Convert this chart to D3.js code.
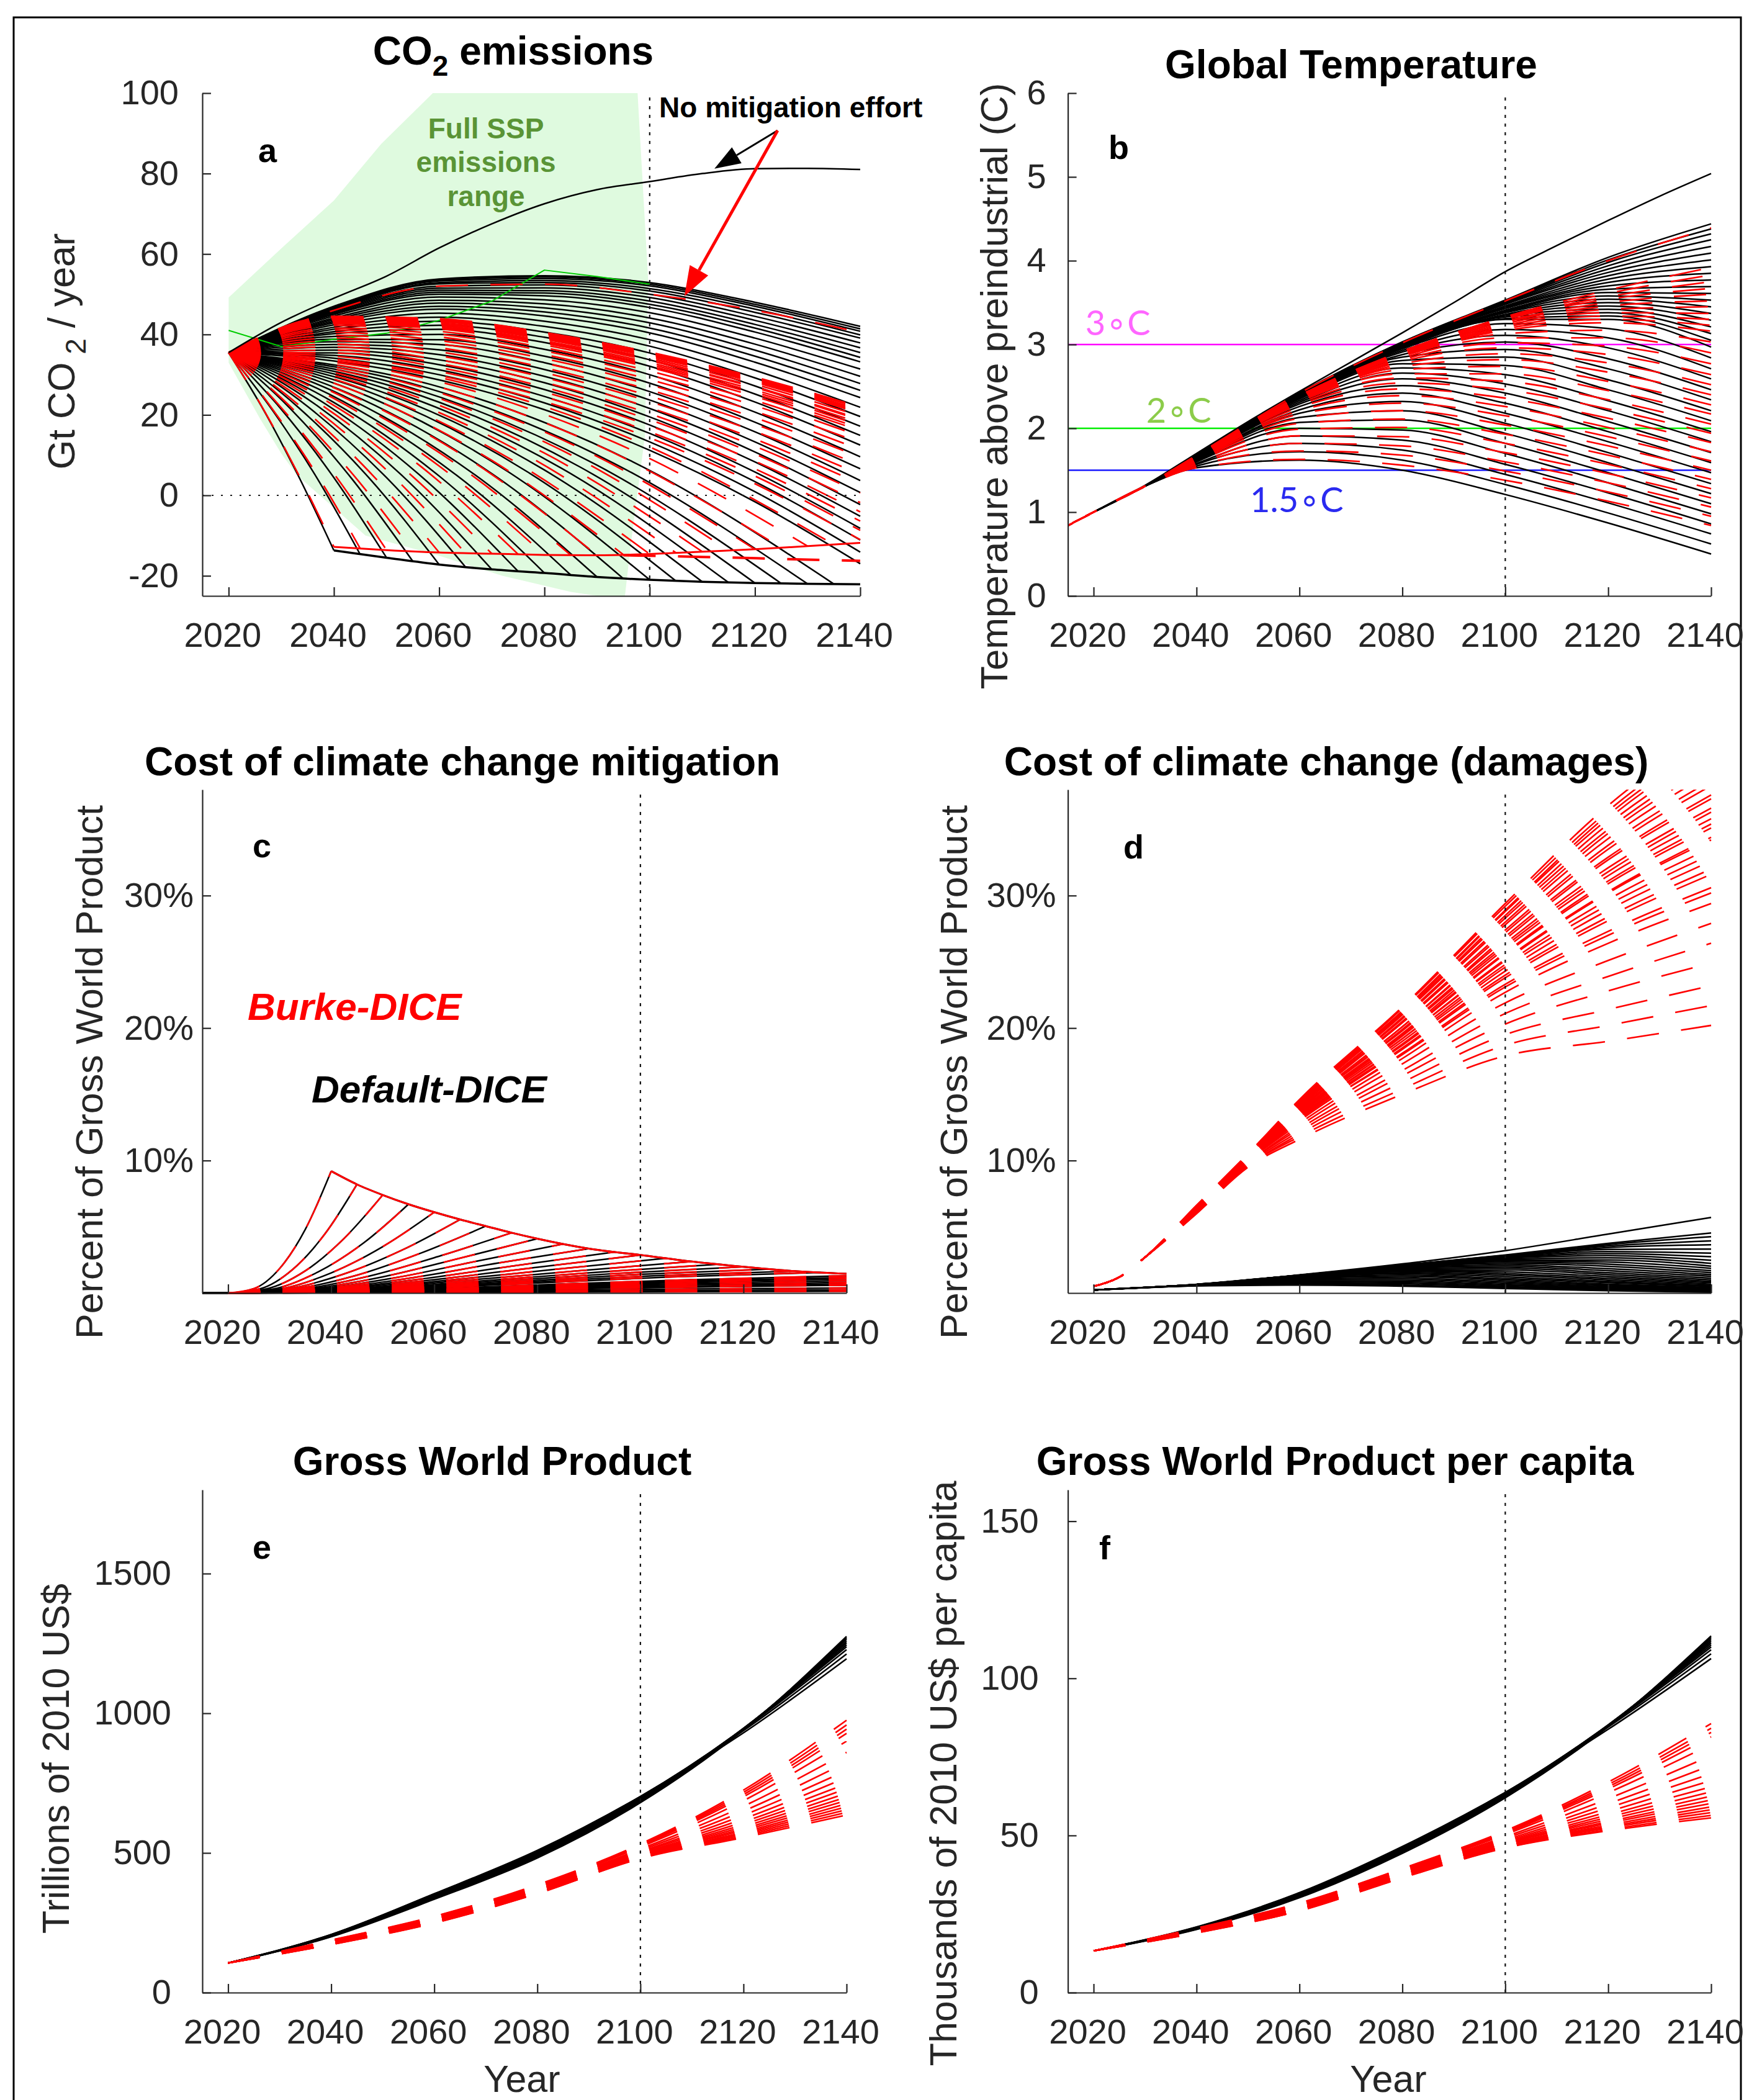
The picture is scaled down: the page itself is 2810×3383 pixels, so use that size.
<!DOCTYPE html>
<html>
<head>
<meta charset="utf-8">
<title>DICE mitigation scenarios</title>
<script src="https://d3js.org/d3.v7.min.js"></script>
<style>
  body { margin: 0; background: #fff; }
</style>
</head>
<body>
<script>
// ---------------- data ----------------
const xTickYears = [2020, 2040, 2060, 2080, 2100, 2120, 2140];
const yrs20 = [2020, 2040, 2060, 2080, 2100, 2120, 2140];
const decades = [2020, 2030, 2040, 2050, 2060, 2070, 2080, 2090, 2100, 2110, 2120, 2130, 2140];

// (a) CO2 emissions, Gt CO2 / year
const emisTicks = [-20, 0, 20, 40, 60, 80, 100];
const emisStart = 35.5;
const emisNoMitigation = [35.5, 43, 49, 54.5, 61.5, 67.5, 72.5, 76, 78, 80, 81.2, 81.3, 81];
const sspMarkerYears = [2020, 2030, 2040, 2050, 2060, 2070, 2080, 2090, 2100];
const sspMarkerEmis = [41, 37, 38.8, 40.3, 43.5, 48.3, 56, 54.4, 52.5];
const sspRange = [[2020, 49.2], [2030, 61.4], [2040, 73.3], [2049, 87.4], [2058.8, 100], [2097.7, 100],
  [2099.7, 53.8], [2099.1, 14.8], [2096.4, -12.3], [2095.3, -25], [2090, -25], [2085, -24], [2072, -20],
  [2060, -15], [2046, -10], [2033, 5], [2030, 10.4], [2026, 19], [2020, 33]];
const floorYears = [2040, 2050, 2060, 2070, 2080, 2090, 2100, 2110, 2120, 2130, 2140];
const emisFloorBlack = [-13.7, -15.5, -17.2, -18.4, -19.3, -20.3, -21, -21.5, -21.8, -22, -22.1];
const emisFloorRed = [-12.8, -13.6, -14.2, -14.5, -14.8, -14.9, -14.6, -14.0, -13.4, -12.6, -11.8];
const emisFloorRedLow = [[2095, -14.9], [2110, -15.3], [2125, -15.8], [2140, -16.3]];
// scenarios reaching the floor: [year1, value1, year2, value2, floorYear, floorValue]
const emisDropBlack = [
  [2026.7, 21.1, 2033.3, 4.7, 2040, -13.7], [2028.3, 21.2, 2036.7, 4.5, 2045, -14.7],
  [2030, 21.4, 2040, 4.4, 2050, -15.5], [2031.7, 21.6, 2043.3, 4.3, 2055, -16.4],
  [2033.3, 21.8, 2046.7, 4.3, 2060, -17.2], [2035, 22.1, 2050, 4.4, 2065, -17.8],
  [2036.7, 22.4, 2053.3, 4.5, 2070, -18.4], [2038.3, 22.8, 2056.7, 4.6, 2075, -18.9],
  [2040, 23.1, 2060, 4.8, 2080, -19.3], [2041.7, 23.4, 2063.3, 5.0, 2085, -19.8],
  [2043.3, 23.8, 2066.7, 5.2, 2090, -20.3], [2045, 24.1, 2070, 5.4, 2095, -20.7],
  [2046.7, 24.5, 2073.3, 5.7, 2100, -21], [2048.3, 24.9, 2076.7, 5.9, 2105, -21.3],
  [2050, 25.3, 2080, 6.3, 2110, -21.5], [2051.7, 25.7, 2083.3, 6.7, 2115, -21.7],
  [2053.3, 26.2, 2086.7, 7.1, 2120, -21.8], [2055, 26.6, 2090, 7.5, 2125, -21.9],
  [2056.7, 27.1, 2093.3, 7.9, 2130, -22], [2058.3, 27.6, 2096.7, 8.4, 2135, -22.05]];
const emisDropRed = [
  [2026.7, 21.2, 2033.3, 5.1, 2040, -12.8], [2028.3, 21.5, 2036.7, 5.3, 2045, -13.2],
  [2030, 21.8, 2040, 5.4, 2050, -13.6], [2031.7, 22.1, 2043.3, 5.7, 2055, -13.9],
  [2033.3, 22.5, 2046.7, 5.9, 2060, -14.2], [2035, 22.9, 2050, 6.3, 2065, -14.35],
  [2036.7, 23.3, 2053.3, 6.6, 2070, -14.5], [2038.3, 23.7, 2056.7, 7.0, 2075, -14.65],
  [2040, 24.1, 2060, 7.3, 2080, -14.8], [2041.7, 24.5, 2063.3, 7.7, 2085, -14.85],
  [2043.3, 24.9, 2066.7, 8.1, 2090, -14.9], [2045, 25.4, 2070, 8.7, 2095, -14.75],
  [2046.7, 25.9, 2073.3, 9.2, 2100, -14.6], [2048.3, 26.5, 2076.7, 9.9, 2105, -14.3],
  [2050, 27.0, 2080, 10.5, 2110, -14.0], [2051.7, 27.6, 2083.3, 11.2, 2115, -13.7],
  [2053.3, 28.1, 2086.7, 11.8, 2120, -13.4], [2055, 28.7, 2090, 12.5, 2125, -13.0],
  [2056.7, 29.3, 2093.3, 13.2, 2130, -12.6], [2058.3, 29.8, 2096.7, 13.9, 2135, -12.2]];
// scenarios staying above the floor, at yrs20
const emisUpBlack = [
  [35.5, 33.4, 28.7, 21.3, 11.2, -1.6, -17], [35.5, 34.1, 30.0, 23.0, 13.3, 0.9, -14.1],
  [35.5, 34.8, 31.2, 24.6, 15.4, 3.4, -11.1], [35.5, 35.4, 32.5, 26.3, 17.5, 5.8, -8.2],
  [35.5, 36.1, 33.7, 28.0, 19.5, 8.3, -5.2], [35.5, 36.8, 35.0, 29.6, 21.6, 10.8, -2.3],
  [35.5, 37.5, 36.2, 31.3, 23.7, 13.3, 0.7], [35.5, 38.2, 37.5, 33.0, 25.8, 15.8, 3.7],
  [35.5, 38.8, 38.7, 34.6, 27.9, 18.2, 6.6], [35.5, 39.5, 40.0, 36.3, 30.0, 20.7, 9.6],
  [35.5, 40.2, 41.3, 38.0, 32.1, 23.2, 12.5], [35.5, 40.7, 42.3, 39.3, 33.7, 25.2, 14.9],
  [35.5, 41.3, 43.3, 40.6, 35.4, 27.2, 17.2], [35.5, 41.8, 44.3, 42.0, 37.1, 29.2, 19.6],
  [35.5, 42.4, 45.3, 43.3, 38.7, 31.1, 21.9], [35.5, 42.9, 46.3, 44.6, 40.4, 33.1, 24.3],
  [35.5, 43.3, 47.0, 45.6, 41.6, 34.6, 26.1], [35.5, 43.7, 47.8, 46.6, 42.9, 36.1, 27.8],
  [35.5, 44.1, 48.5, 47.6, 44.1, 37.6, 29.6], [35.5, 44.6, 49.3, 48.6, 45.4, 39.1, 31.4],
  [35.5, 45.0, 50.0, 49.6, 46.7, 40.6, 33.2], [35.5, 45.2, 50.5, 50.3, 47.5, 41.6, 34.3],
  [35.5, 45.5, 51.0, 50.9, 48.3, 42.5, 35.5], [35.5, 45.8, 51.5, 51.6, 49.2, 43.5, 36.7],
  [35.5, 46.1, 52.0, 52.3, 50.0, 44.5, 37.9], [35.5, 46.3, 52.6, 52.9, 50.8, 45.5, 39.1],
  [35.5, 46.5, 52.9, 53.4, 51.4, 46.3, 39.9], [35.5, 46.7, 53.3, 53.9, 52.1, 47.0, 40.8],
  [35.5, 46.9, 53.6, 54.3, 52.5, 47.5, 41.4], [35.5, 47.0, 53.8, 54.6, 52.9, 48.0, 42.0]];
const emisUpRed = [
  [35.5, 33.9, 29.8, 23.3, 14.3, 2.9, -11], [35.5, 34.6, 30.8, 24.5, 15.8, 4.8, -8.7],
  [35.5, 35.4, 31.8, 25.7, 17.3, 6.6, -6.4], [35.5, 36.1, 32.8, 26.9, 18.8, 8.5, -4.1],
  [35.5, 36.9, 33.7, 28.1, 20.3, 10.3, -1.8], [35.5, 37.6, 34.7, 29.3, 21.8, 12.2, 0.6],
  [35.5, 38.4, 35.7, 30.5, 23.3, 14.0, 2.9], [35.5, 39.1, 36.7, 31.7, 24.7, 15.9, 5.2],
  [35.5, 39.8, 37.7, 32.9, 26.2, 17.7, 7.5], [35.5, 40.5, 38.5, 34.0, 27.5, 19.3, 9.5],
  [35.5, 41.1, 39.4, 35.0, 28.8, 20.9, 11.4], [35.5, 41.6, 40.1, 35.9, 29.9, 22.3, 13.1],
  [35.5, 42.2, 40.8, 36.7, 30.9, 23.6, 14.7], [35.5, 42.6, 41.4, 37.4, 31.8, 24.6, 16.1],
  [35.5, 42.8, 41.6, 37.8, 32.2, 25.2, 16.7], [35.5, 43.0, 41.9, 38.1, 32.6, 25.7, 17.4],
  [35.5, 43.2, 42.2, 38.4, 33.0, 26.2, 18.0], [35.5, 43.4, 42.5, 38.8, 33.5, 26.8, 18.7],
  [35.5, 43.6, 42.6, 39.0, 33.7, 27.0, 19.0], [35.5, 43.8, 42.9, 39.3, 34.1, 27.6, 19.7],
  [35.5, 44.0, 43.2, 39.6, 34.5, 28.1, 20.4], [35.5, 44.1, 43.3, 39.8, 34.8, 28.3, 20.7],
  [35.5, 44.2, 43.5, 40.0, 35.0, 28.6, 21.0], [35.5, 44.3, 43.6, 40.2, 35.2, 28.9, 21.3],
  [35.5, 44.4, 43.8, 40.3, 35.4, 29.1, 21.7], [35.5, 44.5, 43.9, 40.5, 35.6, 29.4, 22.0]];
const emisTopRed = [35.5, 46, 52, 52.5, 50, 46, 40.5];

// (b) Global temperature, C above preindustrial
const tempTicks = [0, 1, 2, 3, 4, 5, 6];
const tempYears = [2015, 2020, 2030, 2040, 2060, 2080, 2100, 2120, 2140];
const tempNoMitYears = [2015, 2020, 2030, 2040, 2050, 2060, 2070, 2080, 2090, 2100, 2110, 2120, 2130, 2140];
const tempNoMit = [0.84, 1.0, 1.32, 1.7, 2.08, 2.44, 2.79, 3.14, 3.5, 3.87, 4.18, 4.48, 4.77, 5.04];
const tempThresholds = [3, 2, 1.5];
const tempBlack = [
  [0.84, 1.0, 1.31, 1.53, 1.62, 1.50, 1.21, 0.87, 0.50], [0.84, 1.0, 1.31, 1.55, 1.72, 1.62, 1.33, 0.99, 0.62],
  [0.84, 1.0, 1.31, 1.57, 1.82, 1.74, 1.45, 1.11, 0.74], [0.84, 1.0, 1.31, 1.58, 1.91, 1.86, 1.57, 1.23, 0.86],
  [0.84, 1.0, 1.31, 1.60, 2.00, 1.98, 1.70, 1.35, 0.98], [0.84, 1.0, 1.31, 1.61, 2.07, 2.10, 1.82, 1.47, 1.10],
  [0.84, 1.0, 1.31, 1.62, 2.13, 2.21, 1.94, 1.59, 1.22], [0.84, 1.0, 1.31, 1.63, 2.18, 2.32, 2.06, 1.71, 1.34],
  [0.84, 1.0, 1.31, 1.64, 2.22, 2.42, 2.18, 1.84, 1.47], [0.84, 1.0, 1.31, 1.65, 2.26, 2.51, 2.30, 1.96, 1.59],
  [0.84, 1.0, 1.31, 1.65, 2.29, 2.59, 2.42, 2.08, 1.71], [0.84, 1.0, 1.31, 1.66, 2.31, 2.66, 2.53, 2.21, 1.84],
  [0.84, 1.0, 1.31, 1.66, 2.33, 2.72, 2.64, 2.33, 1.96], [0.84, 1.0, 1.31, 1.67, 2.35, 2.77, 2.75, 2.46, 2.09],
  [0.84, 1.0, 1.31, 1.67, 2.36, 2.81, 2.85, 2.58, 2.21], [0.84, 1.0, 1.31, 1.67, 2.37, 2.85, 2.94, 2.71, 2.34],
  [0.84, 1.0, 1.31, 1.67, 2.38, 2.88, 3.03, 2.83, 2.46], [0.84, 1.0, 1.31, 1.68, 2.39, 2.91, 3.11, 2.96, 2.59],
  [0.84, 1.0, 1.31, 1.68, 2.40, 2.93, 3.18, 3.08, 2.71], [0.84, 1.0, 1.31, 1.68, 2.40, 2.95, 3.25, 3.19, 2.84],
  [0.84, 1.0, 1.31, 1.68, 2.41, 2.96, 3.30, 3.30, 2.97], [0.84, 1.0, 1.31, 1.68, 2.41, 2.96, 3.31, 3.34, 3.05],
  [0.84, 1.0, 1.31, 1.68, 2.41, 2.97, 3.33, 3.38, 3.13], [0.84, 1.0, 1.31, 1.68, 2.41, 2.97, 3.34, 3.42, 3.21],
  [0.84, 1.0, 1.31, 1.68, 2.41, 2.98, 3.35, 3.46, 3.29], [0.84, 1.0, 1.31, 1.68, 2.41, 2.98, 3.36, 3.50, 3.37],
  [0.84, 1.0, 1.31, 1.68, 2.41, 2.98, 3.38, 3.54, 3.45], [0.84, 1.0, 1.31, 1.68, 2.41, 2.99, 3.39, 3.58, 3.53],
  [0.84, 1.0, 1.31, 1.68, 2.42, 2.99, 3.40, 3.62, 3.61], [0.84, 1.0, 1.31, 1.68, 2.42, 2.99, 3.41, 3.66, 3.69],
  [0.84, 1.0, 1.31, 1.68, 2.42, 3.00, 3.43, 3.70, 3.77], [0.84, 1.0, 1.31, 1.68, 2.42, 3.00, 3.44, 3.74, 3.85],
  [0.84, 1.0, 1.31, 1.68, 2.42, 3.01, 3.45, 3.78, 3.93], [0.84, 1.0, 1.31, 1.68, 2.42, 3.01, 3.46, 3.82, 4.01],
  [0.84, 1.0, 1.31, 1.68, 2.42, 3.01, 3.48, 3.86, 4.09], [0.84, 1.0, 1.31, 1.68, 2.42, 3.02, 3.49, 3.90, 4.17],
  [0.84, 1.0, 1.31, 1.68, 2.42, 3.02, 3.50, 3.94, 4.25], [0.84, 1.0, 1.31, 1.68, 2.42, 3.02, 3.51, 3.98, 4.32],
  [0.84, 1.0, 1.31, 1.68, 2.42, 3.03, 3.52, 4.01, 4.38], [0.84, 1.0, 1.31, 1.68, 2.42, 3.03, 3.53, 4.04, 4.44]];
const tempRed = [
  [0.84, 1.0, 1.31, 1.53, 1.63, 1.56, 1.38, 1.13, 0.84], [0.84, 1.0, 1.31, 1.55, 1.73, 1.68, 1.49, 1.24, 0.95],
  [0.84, 1.0, 1.31, 1.57, 1.82, 1.79, 1.60, 1.35, 1.06], [0.84, 1.0, 1.31, 1.58, 1.91, 1.90, 1.71, 1.46, 1.17],
  [0.84, 1.0, 1.31, 1.60, 1.99, 2.01, 1.82, 1.57, 1.28], [0.84, 1.0, 1.31, 1.61, 2.06, 2.11, 1.93, 1.68, 1.39],
  [0.84, 1.0, 1.31, 1.62, 2.12, 2.21, 2.04, 1.79, 1.50], [0.84, 1.0, 1.31, 1.63, 2.17, 2.30, 2.15, 1.90, 1.61],
  [0.84, 1.0, 1.31, 1.64, 2.21, 2.39, 2.26, 2.01, 1.72], [0.84, 1.0, 1.31, 1.64, 2.25, 2.47, 2.36, 2.12, 1.83],
  [0.84, 1.0, 1.31, 1.65, 2.28, 2.54, 2.46, 2.23, 1.94], [0.84, 1.0, 1.31, 1.65, 2.30, 2.60, 2.56, 2.34, 2.05],
  [0.84, 1.0, 1.31, 1.66, 2.32, 2.65, 2.65, 2.45, 2.17], [0.84, 1.0, 1.31, 1.66, 2.33, 2.70, 2.74, 2.56, 2.28],
  [0.84, 1.0, 1.31, 1.66, 2.34, 2.74, 2.82, 2.67, 2.40], [0.84, 1.0, 1.31, 1.67, 2.35, 2.77, 2.89, 2.78, 2.52],
  [0.84, 1.0, 1.31, 1.67, 2.36, 2.80, 2.96, 2.88, 2.64], [0.84, 1.0, 1.31, 1.67, 2.37, 2.82, 3.02, 2.98, 2.77],
  [0.84, 1.0, 1.31, 1.67, 2.37, 2.84, 3.08, 3.08, 2.90], [0.84, 1.0, 1.31, 1.67, 2.38, 2.86, 3.13, 3.17, 3.03],
  [0.84, 1.0, 1.31, 1.67, 2.38, 2.87, 3.17, 3.26, 3.16], [0.84, 1.0, 1.31, 1.67, 2.38, 2.88, 3.19, 3.30, 3.23],
  [0.84, 1.0, 1.31, 1.67, 2.38, 2.88, 3.21, 3.34, 3.30], [0.84, 1.0, 1.31, 1.67, 2.38, 2.89, 3.23, 3.38, 3.37],
  [0.84, 1.0, 1.31, 1.67, 2.38, 2.89, 3.25, 3.42, 3.45], [0.84, 1.0, 1.31, 1.67, 2.38, 2.90, 3.27, 3.46, 3.52],
  [0.84, 1.0, 1.31, 1.67, 2.38, 2.90, 3.28, 3.50, 3.60], [0.84, 1.0, 1.31, 1.67, 2.38, 2.91, 3.30, 3.54, 3.67],
  [0.84, 1.0, 1.31, 1.67, 2.38, 2.91, 3.31, 3.57, 3.75], [0.84, 1.0, 1.31, 1.67, 2.39, 2.92, 3.32, 3.61, 3.83],
  [0.84, 1.0, 1.31, 1.67, 2.39, 2.92, 3.33, 3.65, 3.92]];
const tempTopRed = [0.84, 1.0, 1.31, 1.68, 2.42, 3.02, 3.52, 4.0, 4.39];

// (c) mitigation cost, % of gross world product
const pctTicks = [10, 20, 30];
const costEnvelope = [[2040, 9.2], [2045, 8.2], [2050, 7.4], [2055, 6.7], [2060, 6.1], [2065, 5.55],
  [2070, 5.05], [2075, 4.55], [2080, 4.1], [2090, 3.35], [2100, 2.87], [2110, 2.38], [2120, 1.98],
  [2130, 1.65], [2140, 1.45]];
const costRise = [
  [[2025, 0.33], [2030, 1.85], [2035, 4.82], [2040, 9.2]],
  [[2026.3, 0.33], [2032.5, 1.77], [2038.8, 4.47], [2045, 8.2]],
  [[2027.5, 0.32], [2035, 1.68], [2042.5, 4.12], [2050, 7.4]],
  [[2028.8, 0.31], [2037.5, 1.6], [2046.3, 3.78], [2055, 6.7]],
  [[2030, 0.3], [2040, 1.52], [2050, 3.5], [2060, 6.1]],
  [[2031.3, 0.3], [2042.5, 1.44], [2053.8, 3.25], [2065, 5.55]],
  [[2032.5, 0.29], [2045, 1.35], [2057.5, 3.03], [2070, 5.05]],
  [[2033.8, 0.28], [2047.5, 1.29], [2061.3, 2.82], [2075, 4.55]],
  [[2035, 0.28], [2050, 1.22], [2065, 2.63], [2080, 4.1]],
  [[2036.3, 0.27], [2052.5, 1.16], [2068.8, 2.45], [2085, 3.7]],
  [[2037.5, 0.26], [2055, 1.11], [2072.5, 2.27], [2090, 3.35]],
  [[2038.8, 0.26], [2057.5, 1.06], [2076.3, 2.1], [2095, 3.1]],
  [[2040, 0.25], [2060, 1.01], [2080, 1.94], [2100, 2.87]],
  [[2041.3, 0.24], [2062.5, 0.96], [2083.8, 1.8], [2105, 2.62]],
  [[2042.5, 0.24], [2065, 0.92], [2087.5, 1.66], [2110, 2.38]],
  [[2043.8, 0.23], [2067.5, 0.87], [2091.3, 1.56], [2115, 2.17]],
  [[2045, 0.22], [2070, 0.83], [2095, 1.47], [2120, 1.98]],
  [[2046.3, 0.22], [2072.5, 0.79], [2098.8, 1.39], [2125, 1.8]],
  [[2047.5, 0.21], [2075, 0.75], [2102.5, 1.3], [2130, 1.65]],
  [[2048.8, 0.21], [2077.5, 0.71], [2106.3, 1.22], [2135, 1.55]],
  [[2050, 0.18], [2080, 0.61], [2110, 1.01], [2140, 1.30]],
  [[2050, 0.16], [2080, 0.55], [2110, 0.91], [2140, 1.18]],
  [[2050, 0.15], [2080, 0.50], [2110, 0.83], [2140, 1.07]],
  [[2050, 0.13], [2080, 0.44], [2110, 0.73], [2140, 0.94]],
  [[2050, 0.11], [2080, 0.38], [2110, 0.63], [2140, 0.81]],
  [[2050, 0.10], [2080, 0.32], [2110, 0.53], [2140, 0.69]],
  [[2050, 0.08], [2080, 0.27], [2110, 0.45], [2140, 0.59]],
  [[2050, 0.05], [2080, 0.18], [2110, 0.30], [2140, 0.38]],
  [[2050, 0.03], [2080, 0.11], [2110, 0.19], [2140, 0.24]],
  [[2050, 0.02], [2080, 0.06], [2110, 0.10], [2140, 0.13]]];

// (d) damages, % of gross world product
const dmgRedYears = [2020, 2025, 2030, 2040, 2050, 2060, 2080, 2100, 2120, 2140];
const dmgRedTrunk = [0.5, 1.2, 2.7];
const dmgRedFan = [ // 2040, 2050, 2060, 2080, 2100, 2120, 2140
  [6.0, 9.5, 11.6, 15.0, 17.9, 19.0, 20.2], [6.0, 9.6, 11.8, 15.4, 18.7, 20.2, 21.7],
  [6.1, 9.6, 12.0, 15.9, 19.5, 21.4, 23.2], [6.1, 9.7, 12.2, 16.4, 20.3, 22.8, 24.9],
  [6.2, 9.8, 12.4, 16.8, 21.1, 23.9, 26.4], [6.2, 9.8, 12.6, 17.3, 21.9, 25.1, 27.9],
  [6.2, 9.9, 12.8, 17.7, 22.7, 26.4, 29.4], [6.3, 9.9, 13.0, 18.0, 23.1, 27.0, 30.2],
  [6.3, 10.0, 13.0, 18.1, 23.3, 27.3, 30.6], [6.3, 10.0, 13.1, 18.4, 23.8, 28.1, 31.6],
  [6.3, 10.0, 13.2, 18.5, 24.0, 28.4, 32.0], [6.3, 10.1, 13.3, 18.7, 24.3, 28.9, 32.6],
  [6.3, 10.1, 13.3, 18.8, 24.6, 29.3, 33.1], [6.4, 10.1, 13.4, 19.0, 24.8, 29.7, 33.6],
  [6.4, 10.1, 13.5, 19.2, 25.1, 30.2, 34.2], [6.4, 10.1, 13.5, 19.2, 25.2, 30.3, 34.4],
  [6.4, 10.2, 13.6, 19.4, 25.6, 30.9, 35.1], [6.4, 10.2, 13.6, 19.5, 25.7, 31.1, 35.4],
  [6.4, 10.2, 13.7, 19.6, 26.0, 31.5, 35.8], [6.4, 10.2, 13.8, 19.8, 26.2, 31.8, 36.3],
  [6.4, 10.2, 13.8, 19.9, 26.4, 32.1, 36.6], [6.5, 10.3, 13.9, 20.1, 26.7, 32.7, 37.3],
  [6.5, 10.3, 13.9, 20.1, 26.9, 32.9, 37.6], [6.5, 10.3, 14.0, 20.4, 27.2, 33.5, 38.3],
  [6.5, 10.3, 14.1, 20.5, 27.4, 33.8, 38.7], [6.5, 10.4, 14.2, 20.7, 27.8, 34.3, 39.3],
  [6.5, 10.4, 14.2, 20.8, 28.0, 34.7, 39.8], [6.5, 10.4, 14.3, 21.0, 28.3, 35.0, 40.3],
  [6.6, 10.4, 14.4, 21.1, 28.5, 35.4, 40.7], [6.6, 10.4, 14.4, 21.2, 28.8, 35.8, 41.3],
  [6.6, 10.5, 14.5, 21.3, 28.9, 36.1, 41.6], [6.6, 10.5, 14.5, 21.5, 29.2, 36.4, 42.1],
  [6.6, 10.5, 14.6, 21.6, 29.4, 36.8, 42.5]];
const dmgBlack = [ // at yrs20
  [0.23, 0.54, 0.60, 0.52, 0.34, 0.17, 0.06], [0.23, 0.55, 0.68, 0.60, 0.41, 0.23, 0.09],
  [0.23, 0.57, 0.76, 0.70, 0.48, 0.28, 0.13], [0.23, 0.57, 0.84, 0.80, 0.57, 0.35, 0.17],
  [0.23, 0.59, 0.92, 0.90, 0.66, 0.42, 0.22], [0.23, 0.60, 0.99, 1.01, 0.76, 0.50, 0.28],
  [0.23, 0.60, 1.04, 1.12, 0.87, 0.58, 0.34], [0.23, 0.61, 1.09, 1.24, 0.98, 0.67, 0.41],
  [0.23, 0.62, 1.13, 1.35, 1.09, 0.78, 0.50], [0.23, 0.63, 1.18, 1.45, 1.22, 0.88, 0.58],
  [0.23, 0.63, 1.21, 1.54, 1.35, 1.00, 0.67], [0.23, 0.63, 1.23, 1.63, 1.47, 1.12, 0.78],
  [0.23, 0.63, 1.25, 1.70, 1.60, 1.25, 0.88], [0.23, 0.64, 1.27, 1.76, 1.74, 1.39, 1.00],
  [0.23, 0.64, 1.28, 1.82, 1.87, 1.53, 1.12], [0.23, 0.64, 1.29, 1.87, 1.99, 1.69, 1.26],
  [0.23, 0.64, 1.30, 1.91, 2.11, 1.84, 1.39], [0.23, 0.65, 1.31, 1.95, 2.22, 2.02, 1.54],
  [0.23, 0.65, 1.32, 1.97, 2.33, 2.18, 1.69], [0.23, 0.65, 1.32, 2.00, 2.43, 2.34, 1.86],
  [0.23, 0.65, 1.34, 2.01, 2.50, 2.50, 2.03], [0.23, 0.65, 1.34, 2.03, 2.57, 2.66, 2.24],
  [0.23, 0.65, 1.34, 2.04, 2.63, 2.82, 2.47], [0.23, 0.65, 1.35, 2.06, 2.67, 2.98, 2.74],
  [0.23, 0.65, 1.35, 2.07, 2.72, 3.13, 3.01], [0.23, 0.65, 1.35, 2.08, 2.77, 3.29, 3.32],
  [0.23, 0.65, 1.35, 2.10, 2.80, 3.43, 3.64], [0.23, 0.65, 1.35, 2.10, 2.83, 3.55, 3.94],
  [0.23, 0.65, 1.35, 2.11, 2.85, 3.66, 4.25], [0.23, 0.65, 1.35, 2.11, 2.87, 3.75, 4.53]];
const dmgNoMit = [0.23, 0.66, 1.37, 2.2, 3.2, 4.45, 5.7];

// (e) gross world product, trillions of 2010 US$ (at yrs20)
const gwpTicks = [0, 500, 1000, 1500];
const gwpBlack = [
  [106, 200, 334, 482, 680, 940, 1275], [106, 201, 337, 486, 684, 942, 1270], [106, 202, 340, 490, 688, 944, 1265],
  [106, 203, 343, 493, 691, 945, 1258], [106, 204, 345, 496, 694, 946, 1252], [106, 205, 347, 499, 697, 946, 1245],
  [106, 206, 349, 502, 699, 945, 1238], [106, 207, 351, 505, 701, 943, 1228], [106, 208, 353, 507, 702, 938, 1212],
  [106, 208, 354, 509, 702, 930, 1195]];
const gwpRed = [
  [106, 172, 249, 354, 480, 555, 636], [106, 172, 250, 355, 481, 560, 645], [106, 173, 250, 356, 483, 565, 655],
  [106, 173, 251, 357, 484, 570, 665], [106, 174, 252, 358, 486, 575, 676], [106, 174, 253, 359, 488, 581, 688],
  [106, 175, 254, 360, 490, 587, 700], [106, 176, 255, 361, 492, 594, 714], [106, 176, 256, 363, 494, 602, 730],
  [106, 177, 257, 365, 497, 611, 748], [106, 178, 258, 367, 501, 622, 770], [106, 180, 260, 369, 504, 635, 795],
  [106, 181, 262, 372, 509, 650, 825], [106, 183, 265, 375, 514, 667, 860], [106, 184, 268, 379, 521, 687, 900],
  [106, 186, 270, 382, 525, 701, 928], [106, 186, 271, 383, 527, 709, 943], [106, 187, 272, 384, 529, 717, 958],
  [106, 188, 273, 386, 532, 725, 975]];

// (f) gross world product per capita, thousands of 2010 US$ (at yrs20)
const gwpcTicks = [0, 50, 100, 150];
const gwpcBlack = [
  [13.3, 20.1, 30.2, 44.3, 62.0, 84.6, 113.5], [13.3, 20.2, 30.4, 44.6, 62.3, 84.8, 113.0],
  [13.3, 20.3, 30.6, 44.9, 62.6, 85.0, 112.4], [13.3, 20.4, 30.8, 45.1, 62.8, 85.1, 111.8],
  [13.3, 20.5, 31.0, 45.4, 63.0, 85.2, 111.2], [13.3, 20.6, 31.2, 45.6, 63.2, 85.2, 110.6],
  [13.3, 20.7, 31.4, 45.9, 63.4, 85.1, 110.0], [13.3, 20.8, 31.6, 46.1, 63.6, 84.9, 109.1],
  [13.3, 20.8, 31.7, 46.3, 63.7, 84.5, 107.8], [13.3, 20.9, 31.8, 46.5, 63.7, 83.8, 106.3]];
const gwpcRed = [
  [13.3, 19.0, 26.0, 36.5, 46.0, 51.5, 55.6], [13.3, 19.0, 26.1, 36.6, 46.1, 51.9, 56.4],
  [13.3, 19.1, 26.1, 36.7, 46.3, 52.4, 57.3], [13.3, 19.1, 26.2, 36.8, 46.5, 52.8, 58.2],
  [13.3, 19.2, 26.3, 36.9, 46.6, 53.3, 59.1], [13.3, 19.2, 26.4, 37.0, 46.8, 53.9, 60.2],
  [13.3, 19.3, 26.5, 37.1, 47.0, 54.4, 61.3], [13.3, 19.3, 26.6, 37.2, 47.3, 55.1, 62.5],
  [13.3, 19.4, 26.7, 37.3, 47.5, 55.8, 63.9], [13.3, 19.5, 26.8, 37.5, 47.8, 56.6, 65.5],
  [13.3, 19.6, 27.0, 37.7, 48.2, 57.6, 67.5], [13.3, 19.7, 27.2, 37.9, 48.6, 58.8, 69.7],
  [13.3, 19.8, 27.4, 38.2, 49.1, 60.1, 72.3], [13.3, 20.0, 27.7, 38.5, 49.6, 61.7, 75.4],
  [13.3, 20.2, 27.9, 38.8, 50.3, 63.6, 79.0], [13.3, 20.3, 28.2, 39.1, 50.7, 64.8, 81.4],
  [13.3, 20.4, 28.3, 39.2, 51.0, 65.5, 82.8], [13.3, 20.4, 28.4, 39.4, 51.2, 66.2, 84.1],
  [13.3, 20.5, 28.5, 39.5, 51.5, 67.0, 85.6]];

// ---------------- layout & style ----------------
const W = 2810, H = 3383;
const FONT = '"Liberation Sans", Arial, Helvetica, sans-serif';
const INK = "#262626";
const RED = "#ff0000";
const DASH = "52,36";
const LW = 2.5;
const LWR = 2.6;

const layout = {
  a: {px: [326, 1386], py: [960, 150], yDom: [-25, 100], ticks: emisTicks, gap: 38, fmt: d => String(d),
      title: {x: 827, y: 104}, ylab: {x: 120, y: 566}, letter: {x: 416, y: 261, t: "a"}},
  b: {px: [1720.6, 2757], py: [960, 150], yDom: [0, 6], ticks: tempTicks, gap: 35, fmt: d => String(d),
      title: {x: 2177, y: 126, t: "Global Temperature"}, ylab: {x: 1623, y: 622, t: "Temperature above preindustrial (C)"},
      letter: {x: 1786, y: 256, t: "b"}},
  c: {px: [326, 1364], py: [2083, 1272], yDom: [0, 38], ticks: pctTicks, gap: 14, fmt: d => d + "%",
      title: {x: 745, y: 1249, t: "Cost of climate change mitigation"}, ylab: {x: 165, y: 1727, t: "Percent of Gross World Product"},
      letter: {x: 407, y: 1381, t: "c"}},
  d: {px: [1720.6, 2757], py: [2083, 1272], yDom: [0, 38], ticks: pctTicks, gap: 19, fmt: d => d + "%",
      title: {x: 2137, y: 1249, t: "Cost of climate change (damages)"}, ylab: {x: 1558, y: 1727, t: "Percent of Gross World Product"},
      letter: {x: 1810, y: 1383, t: "d"}},
  e: {px: [326, 1364], py: [3210, 2400], yDom: [0, 1800], ticks: gwpTicks, gap: 50, fmt: d => String(d),
      title: {x: 793, y: 2376, t: "Gross World Product"}, ylab: {x: 111, y: 2833, t: "Trillions of 2010 US$"},
      letter: {x: 407, y: 2511, t: "e"}, xlab: {x: 841, y: 3370}},
  f: {px: [1720.6, 2757], py: [3210, 2400], yDom: [0, 160], ticks: gwpcTicks, gap: 47, fmt: d => String(d),
      title: {x: 2151, y: 2376, t: "Gross World Product per capita"}, ylab: {x: 1541, y: 2857, t: "Thousands of 2010 US$ per capita"},
      letter: {x: 1771, y: 2512, t: "f"}, xlab: {x: 2237, y: 3370}}
};

// ---------------- drawing ----------------
const svg = d3.select("body").append("svg").attr("width", W).attr("height", H);
svg.append("rect").attr("width", W).attr("height", H).attr("fill", "#fff");
const defs = svg.append("defs");

// figure frame
svg.append("path").attr("d", `M22,${H}V28H2805V${H}`).attr("fill", "none").attr("stroke", "#000").attr("stroke-width", 3);

function makePanel(id) {
  const L = layout[id];
  const x = d3.scaleLinear().domain([2015, 2140]).range(L.px);
  const y = d3.scaleLinear().domain(L.yDom).range(L.py);
  const root = svg.append("g").attr("class", "panel-" + id);
  defs.append("clipPath").attr("id", "clip-" + id).append("rect")
    .attr("x", L.px[0]).attr("y", L.py[1]).attr("width", L.px[1] - L.px[0] + 3).attr("height", L.py[0] - L.py[1] + 3);
  const plot = root.append("g").attr("clip-path", `url(#clip-${id})`);
  const line = d3.line().x(d => x(d[0])).y(d => y(d[1])).curve(d3.curveMonotoneX);
  const linear = d3.line().x(d => x(d[0])).y(d => y(d[1]));
  return {id, L, x, y, root, plot, line, linear};
}

const rowsToPts = (years, rows) => rows.map(r => years.map((t, i) => [t, r[i]]));

function drawSet(P, series, color, opts = {}) {
  P.plot.append("g").selectAll("path").data(series).join("path")
    .attr("d", opts.linear ? P.linear : P.line)
    .attr("fill", "none")
    .attr("stroke", color)
    .attr("stroke-width", opts.width || (color === RED ? LWR : LW))
    .attr("stroke-dasharray", opts.dash || null)
    .attr("stroke-linejoin", "round");
}

function vDotted(P, year) {
  P.plot.append("line").attr("x1", P.x(year)).attr("x2", P.x(year))
    .attr("y1", P.L.py[0]).attr("y2", P.L.py[1])
    .attr("stroke", "#111").attr("stroke-width", 2.2).attr("stroke-dasharray", "5,9");
}

function drawAxes(P) {
  const {L, x, y, root} = P;
  const xa = root.append("g").attr("transform", `translate(0,${L.py[0]})`)
    .call(d3.axisBottom(x).tickValues(xTickYears).tickFormat(d3.format("d"))
      .tickSizeInner(-14).tickSizeOuter(0).tickPadding(42));
  const ya = root.append("g").attr("transform", `translate(${L.px[0]},0)`)
    .call(d3.axisLeft(y).tickValues(L.ticks).tickFormat(L.fmt)
      .tickSizeInner(-14).tickSizeOuter(0).tickPadding(L.gap));
  [xa, ya].forEach(a => {
    a.attr("font-size", 56).attr("font-family", FONT).style("color", INK);
    a.selectAll("path, line").attr("stroke-width", 2.2);
  });
  xa.selectAll("text").attr("x", -10);

  const T = L.title;
  if (T.t) {
    root.append("text").attr("x", T.x).attr("y", T.y).attr("text-anchor", "middle")
      .attr("font-family", FONT).attr("font-weight", "bold").attr("font-size", 64).attr("fill", "#000").text(T.t);
  }
  if (L.ylab.t) {
    root.append("text").attr("transform", `translate(${L.ylab.x},${L.ylab.y}) rotate(-90)`)
      .attr("text-anchor", "middle").attr("font-family", FONT).attr("font-size", 61).attr("fill", INK).text(L.ylab.t);
  }
  root.append("text").attr("x", L.letter.x).attr("y", L.letter.y)
    .attr("font-family", FONT).attr("font-weight", "bold").attr("font-size", 54).attr("fill", "#000").text(L.letter.t);
  if (L.xlab) {
    root.append("text").attr("x", L.xlab.x).attr("y", L.xlab.y).attr("text-anchor", "middle")
      .attr("font-family", FONT).attr("font-size", 61).attr("fill", INK).text("Year");
  }
}

function arrow(g, p0, p1, color, width, headLen, headHalf) {
  const dx = p1[0] - p0[0], dy = p1[1] - p0[1], len = Math.hypot(dx, dy);
  const ux = dx / len, uy = dy / len;
  const bx = p1[0] - ux * headLen, by = p1[1] - uy * headLen;
  g.append("line").attr("x1", p0[0]).attr("y1", p0[1]).attr("x2", bx).attr("y2", by)
    .attr("stroke", color).attr("stroke-width", width);
  g.append("path").attr("d", `M${p1[0]},${p1[1]}L${bx - uy * headHalf},${by + ux * headHalf}L${bx + uy * headHalf},${by - ux * headHalf}Z`)
    .attr("fill", color);
}

// ----- panel a -----
{
  const P = makePanel("a");
  P.plot.append("path").datum(sspRange)
    .attr("d", d3.line().x(d => P.x(d[0])).y(d => P.y(d[1])).curve(d3.curveLinearClosed))
    .attr("fill", "#dffadf").attr("stroke", "none");
  drawSet(P, rowsToPts(yrs20, emisUpBlack), "#000");
  drawSet(P, emisDropBlack.map(r => [[2020, emisStart], [r[0], r[1]], [r[2], r[3]], [r[4], r[5]]]), "#000");
  drawSet(P, [floorYears.map((t, i) => [t, emisFloorBlack[i]])], "#000", {width: 3.5});
  drawSet(P, [sspMarkerYears.map((t, i) => [t, sspMarkerEmis[i]])], "#00cc00", {linear: true, width: 2});
  drawSet(P, rowsToPts(yrs20, emisUpRed), RED, {dash: DASH});
  drawSet(P, emisDropRed.map(r => [[2020, emisStart], [r[0], r[1]], [r[2], r[3]], [r[4], r[5]]]), RED, {dash: DASH});
  drawSet(P, [floorYears.map((t, i) => [t, emisFloorRed[i]])], RED, {width: 3});
  drawSet(P, [emisFloorRedLow], RED, {width: 4, dash: DASH});
  drawSet(P, [yrs20.map((t, i) => [t, emisTopRed[i]])], RED, {dash: DASH});
  drawSet(P, [decades.map((t, i) => [t, emisNoMitigation[i]])], "#000");
  P.plot.append("line").attr("x1", P.x(2015)).attr("x2", P.x(2140)).attr("y1", P.y(0)).attr("y2", P.y(0))
    .attr("stroke", "#222").attr("stroke-width", 2.2).attr("stroke-dasharray", "3,12");
  vDotted(P, 2100);

  const ann = P.root.append("g");
  const sspLabel = [{t: "Full SSP", v: 88.7}, {t: "emissions", v: 80.4}, {t: "range", v: 71.9}];
  ann.selectAll("text.ssp").data(sspLabel).join("text").attr("class", "ssp")
    .attr("x", P.x(2068.9)).attr("y", d => P.y(d.v)).attr("text-anchor", "middle")
    .attr("font-family", FONT).attr("font-weight", "bold").attr("font-size", 46).attr("fill", "#5a9436").text(d => d.t);
  ann.append("text").attr("x", P.x(2101.8)).attr("y", P.y(94.0))
    .attr("font-family", FONT).attr("font-weight", "bold").attr("font-size", 46).attr("fill", "#000").text("No mitigation effort");
  const from = [P.x(2124.3), P.y(90.7)];
  arrow(ann, from, [P.x(2112.3), P.y(81.2)], "#000", 3, 42, 15);
  arrow(ann, from, [P.x(2106.6), P.y(49.5)], RED, 5, 48, 17);

  drawAxes(P);
  const t = P.root.append("text").attr("x", layout.a.title.x).attr("y", layout.a.title.y).attr("text-anchor", "middle")
    .attr("font-family", FONT).attr("font-weight", "bold").attr("font-size", 64).attr("fill", "#000");
  t.append("tspan").text("CO");
  t.append("tspan").attr("dy", 18).attr("font-size", 46).text("2");
  t.append("tspan").attr("dy", -18).text(" emissions");
  const yl = P.root.append("text").attr("transform", `translate(${layout.a.ylab.x},${layout.a.ylab.y}) rotate(-90)`)
    .attr("text-anchor", "middle").attr("font-family", FONT).attr("font-size", 61).attr("fill", INK);
  yl.append("tspan").text("Gt CO");
  yl.append("tspan").attr("dy", 18).attr("font-size", 46).text(" 2");
  yl.append("tspan").attr("dy", -18).text("  / year");
}

// ----- panel b -----
{
  const P = makePanel("b");
  const thrColors = ["#ff00ff", "#00ee00", "#1a1aff"];
  P.plot.selectAll("line.thr").data(tempThresholds).join("line").attr("class", "thr")
    .attr("x1", P.x(2015)).attr("x2", P.x(2140)).attr("y1", d => P.y(d)).attr("y2", d => P.y(d))
    .attr("stroke", (d, i) => thrColors[i]).attr("stroke-width", 2.4);
  drawSet(P, rowsToPts(tempYears, tempBlack), "#000");
  drawSet(P, [tempNoMitYears.map((t, i) => [t, tempNoMit[i]])], "#000");
  drawSet(P, rowsToPts(tempYears, tempRed), RED, {dash: DASH});
  drawSet(P, [tempYears.map((t, i) => [t, tempTopRed[i]])], RED, {dash: DASH});
  vDotted(P, 2100);
  const thrLabels = [
    {t: "3\u2218C", year: 2018.4, v: 3.11, c: "#ff66ff"},
    {t: "2\u2218C", year: 2030.2, v: 2.07, c: "#8ccc4a"},
    {t: "1.5\u2218C", year: 2050.4, v: 1.0, c: "#2a2af0"}];
  P.root.selectAll("text.thr").data(thrLabels).join("text").attr("class", "thr")
    .attr("x", d => P.x(d.year)).attr("y", d => P.y(d.v))
    .attr("font-family", "Lato, 'Open Sans', 'DejaVu Sans', sans-serif").attr("font-size", 56)
    .attr("fill", d => d.c).text(d => d.t);
  drawAxes(P);
}

// ----- panel c -----
{
  const P = makePanel("c");
  drawSet(P, costRise.map(r => [[2015, 0], [2020, 0], ...r]), "#000");
  drawSet(P, [costEnvelope], "#000", {width: 3});
  drawSet(P, costRise.map(r => [[2020, 0], ...r]), RED, {dash: DASH});
  drawSet(P, [costEnvelope], RED, {width: 3});
  vDotted(P, 2100);
  P.root.append("text").attr("x", P.x(2023.8)).attr("y", P.y(20.6))
    .attr("font-family", FONT).attr("font-weight", "bold").attr("font-style", "italic").attr("font-size", 62)
    .attr("fill", RED).text("Burke-DICE");
  P.root.append("text").attr("x", P.x(2036.2)).attr("y", P.y(14.4))
    .attr("font-family", FONT).attr("font-weight", "bold").attr("font-style", "italic").attr("font-size", 62)
    .attr("fill", "#000").text("Default-DICE");
  drawAxes(P);
}

// ----- panel d -----
{
  const P = makePanel("d");
  drawSet(P, rowsToPts(yrs20, dmgBlack), "#000");
  drawSet(P, [yrs20.map((t, i) => [t, dmgNoMit[i]])], "#000");
  drawSet(P, rowsToPts(dmgRedYears, dmgRedFan.map(r => dmgRedTrunk.concat(r))), RED, {dash: DASH});
  vDotted(P, 2100);
  drawAxes(P);
}

// ----- panel e -----
{
  const P = makePanel("e");
  drawSet(P, rowsToPts(yrs20, gwpBlack), "#000");
  drawSet(P, rowsToPts(yrs20, gwpRed), RED, {dash: DASH});
  vDotted(P, 2100);
  drawAxes(P);
}

// ----- panel f -----
{
  const P = makePanel("f");
  drawSet(P, rowsToPts(yrs20, gwpcBlack), "#000");
  drawSet(P, rowsToPts(yrs20, gwpcRed), RED, {dash: DASH});
  vDotted(P, 2100);
  drawAxes(P);
}
</script>
</body>
</html>
